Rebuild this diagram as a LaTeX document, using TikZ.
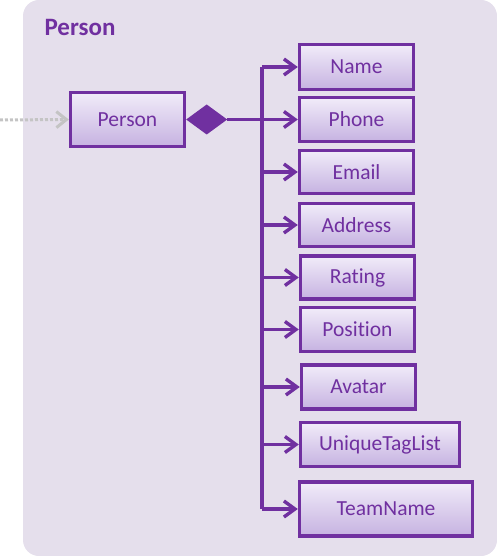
\documentclass[tikz,border=0pt]{standalone}
\usepackage{fontspec}
\setmainfont{Carlito}[Ligatures={NoCommon}]
\usetikzlibrary{arrows.meta,calc}
\definecolor{purp}{HTML}{7030A0}
\definecolor{panel}{HTML}{E5DFEC}
\definecolor{boxtop}{HTML}{F1ECF9}
\definecolor{boxbot}{HTML}{C6B2E1}
\definecolor{dotgrey}{HTML}{C4C4C4}
\tikzset{
  cls/.style={draw=purp, line width=3.4pt, top color=boxtop, bottom color=boxbot,
    text=purp, font=\fontsize{21.5}{25}\selectfont, inner sep=0pt, anchor=center},
  assoc/.style={draw=purp, line width=3.4pt, -{Straight Barb[length=11pt,width=16pt,line width=3.4pt]}},
  trunkline/.style={draw=purp, line width=3.4pt},
}
\begin{document}
\begin{tikzpicture}[x=1pt,y=-1pt]
\useasboundingbox (0,0) rectangle (497,556);
\fill[panel, rounded corners=16pt] (23,0) rectangle (497,556);
\node[anchor=west, text=purp, font=\fontsize{25}{29}\selectfont\bfseries] (title) at (41,27) {Person};

\node[cls, minimum width=114pt, minimum height=54pt] (person) at (127.5,119.5) {Person};
\node[cls, minimum width=114pt, minimum height=45pt] (name) at (356.5,67) {Name};
\node[cls, minimum width=114pt, minimum height=44pt] (phone) at (356.5,119.5) {Phone};
\node[cls, minimum width=114pt, minimum height=43pt] (email) at (356.5,172) {Email};
\node[cls, minimum width=114pt, minimum height=43pt] (address) at (356.5,225) {Address};
\node[cls, minimum width=114pt, minimum height=43pt] (rating) at (357.5,277.5) {Rating};
\node[cls, minimum width=114pt, minimum height=44pt] (position) at (357.5,329.5) {Position};
\node[cls, minimum width=114pt, minimum height=44pt] (avatar) at (358.5,387) {Avatar};
\node[cls, minimum width=159pt, minimum height=44pt] (utl) at (380,444.5) {UniqueTagList};
\node[cls, minimum width=173pt, minimum height=54pt] (team) at (386,509) {TeamName};

% composition diamond
\coordinate (dl) at (person.east);
\coordinate (dr) at ($(person.east)+(41,0)$);
\fill[purp] (dl) -- ($(dl)+(20.5,-15)$) -- (dr) -- ($(dl)+(20.5,15)$) -- cycle;

\coordinate (ttop) at (262,67);
\coordinate (tbot) at (262,509);
\draw[trunkline] (dr) -- (ttop |- dr);
\draw[trunkline] (ttop) -- (tbot);
\foreach \n in {name,phone,email,address,rating,position,avatar,utl,team}{
  \draw[assoc] (ttop |- \n.west) -- (\n.west);
}

% incoming dotted arrow
\coordinate (src) at (0,120);
\draw[dotgrey, line width=3pt, dotted, -{Straight Barb[length=10pt,width=16pt,line width=3pt]}] (src) -- (person.west);
\end{tikzpicture}
\end{document}
